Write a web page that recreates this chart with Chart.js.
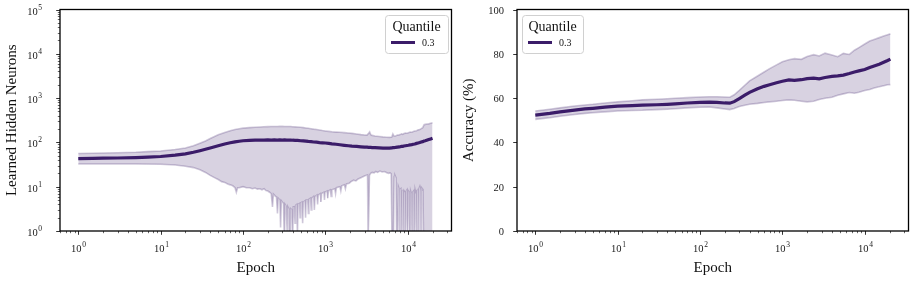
<!DOCTYPE html>
<html><head><meta charset="utf-8">
<script src="https://cdn.jsdelivr.net/npm/chart.js@4"></script>
<style>html,body{margin:0;padding:0;background:#fff;}#wrap{position:relative;width:914px;height:282px;}canvas{position:absolute;top:0;}</style>
</head><body>
<div id="wrap"><canvas id="c1" width="457" height="282" style="left:0"></canvas><canvas id="c2" width="457" height="282" style="left:457px"></canvas></div>
<script>
// ---------- data: left panel (learned hidden neurons) ----------
const epochsN = [1,1.5,2,3,5,7,10,15,20,25,30,35,40,50,60,70,80,90,100,120,140,160,180,200,220,240,260,280,300,320,340,360,380,400,430,460,500,540,580,620,670,720,780,850,920,1000,1100,1200,1350,1500,1700,1900,2100,2400,2700,3000,3200,3350,3450,3550,3700,4000,4500,5000,5500,6000,6400,6600,6800,7100,7500,7900,8100,8400,8700,9000,9400,9800,10200,10700,11200,11700,12200,12800,13400,14000,14600,15200,15800,16300,17000,18000,19000,20000];
const neuronsMean = [43,43.5,44,44.5,45.5,46.5,48,51.5,55,60,65,70,75,84,92,98,103,106,109,111,112,113,113,113.5,113,113.5,113,114,113,113.5,113,112.5,113,112,111.5,111,109,108,106.5,105,104,102,101,99,98,97,95,93,91,88.5,86,84,82.5,81,79.5,78.5,78,77.5,77,77.5,76.5,76,75,74,74.5,74,75,76,76.5,77,78,79,80,81,81.5,83,84,85,86,88,89,91,92,95,97,99,102,104,107,109,112,116,120,124];
const neuronsUpper = [56,57,57.5,58.5,60,62,64,69,75,84,96,108,122,148,168,183,195,203,210,216,220,223,225,227,228,229,229,230,230,229,229,228,228,226,224,222,219,216,212,208,204,199,195,190,185,181,177,174,171,169,166,163,160,155,150,147,146,160,172,150,144,140,136,133,131,130,132,155,140,140,146,148,150,156,152,158,162,161,166,172,170,176,181,184,192,196,205,215,250,255,260,262,270,278];
const epochsNLow = [1,2,5,10,15,20,25,30,35,40,45,50,55,60,65,70,75,80,83,86,90,100,110,120,130,140,150,160,170,180,190,200,210,220,228,234,245,255,262,268,280,286,292,300,310,318,324,335,343,350,365,372,378,392,400,408,420,428,435,450,458,466,485,493,500,520,530,540,565,575,585,610,622,632,660,672,685,720,735,750,790,805,820,870,885,900,960,975,990,1050,1070,1090,1150,1175,1200,1300,1330,1360,1500,1540,1580,1700,1750,1800,1950,2050,2200,2350,2500,2700,2900,3100,3250,3300,3380,3430,3550,3700,3900,4100,4300,4600,4900,5200,5500,5800,6100,6300,6450,6700,6850,7000,7200,7350,7500,7700,7850,7950,8050,8250,8400,8550,8750,8900,9050,9250,9400,9600,9800,10000,10200,10450,10650,10850,11100,11300,11500,11800,12000,12300,12600,12800,13000,13300,13500,13700,14000,14300,14500,14700,15000,15300,15600,16000,17000,18500,20000];
const neuronsLower = [32.5,32.5,32.5,32,31,29,27,24,21,18,16,14.5,13,12.5,11.5,11,10.5,9.5,7.5,9.5,9.5,10,9.5,9.5,9,9.3,8.8,9,8.5,9,8.2,8,7.5,7,3.5,6.8,6.2,5.8,2.5,5.5,5,1.2,4.8,4.5,4.2,0.5,4,3.6,1,3.5,3,0.5,3.2,3,0.5,3.5,3.5,1.5,3.8,4,0.8,4,4.2,2,4.3,4.5,1.5,4.5,4.8,2,5,5,2.5,5.2,5.5,3,5.5,6,3,6,6.5,4,6.5,7,4.5,7,7.5,5,7.5,8,5.5,8,8.5,6,8.5,9,7,9.5,10,8,10.5,11,9,11.5,12,13,14,13.5,15,16,17,18,18.5,0.5,0.5,18,20,21,20.5,22,21,22.5,21.5,22,21,20,20.5,19.5,0.5,0.5,17,18,16,0.5,0.5,10,9,0.5,8.5,9,0.5,8,8.5,0.5,8,7.5,0.5,8,8.5,1,8,7.5,0.5,8,7,0.5,7.5,8,0.5,8.5,7,0.5,8,9,0.5,9,10,8,0.5,9.5,9,8,0.5,0.5,0.5,0.5,0.5];

// ---------- data: right panel (accuracy %) ----------
const epochsA = [1,1.5,2,3,4,5,7,10,15,20,30,40,50,70,100,130,160,200,230,260,300,350,400,500,600,700,850,1000,1200,1400,1700,2000,2400,2800,3300,4000,4700,5500,6500,7500,8500,10000,11500,13000,15000,17000,19000,20500];
const accMean  = [52.3,53.1,53.8,54.6,55.1,55.4,55.9,56.4,56.6,56.8,57.0,57.2,57.4,57.8,58.1,58.2,58.1,57.8,57.7,58.4,59.8,61.3,62.6,64.2,65.3,66.0,66.9,67.6,68.2,68.0,68.3,68.8,69.0,68.7,69.3,69.8,70.0,70.4,71.1,71.8,72.3,72.9,73.8,74.5,75.3,76.2,77.0,77.6];
const accUpper = [54.2,55.0,55.6,56.4,56.9,57.2,57.8,58.3,58.8,59.2,59.5,59.7,59.9,60.2,60.5,60.6,60.6,60.5,60.4,61.5,63.5,65.8,67.8,70.0,71.8,73.3,75.0,76.4,77.3,77.8,77.5,78.8,79.6,79.0,80.3,79.5,78.7,80.2,79.7,81.6,82.8,84.4,85.8,86.5,87.3,88.0,88.6,89.0];
const accLower = [50.4,51.1,51.8,52.6,53.1,53.4,53.8,54.2,54.4,54.5,54.8,55.0,55.2,55.6,55.9,56.0,55.6,55.1,54.8,55.3,56.2,56.8,57.2,57.6,58.0,58.3,58.6,58.9,59.2,59.0,58.6,58.3,58.6,59.4,59.9,60.4,61.3,61.9,62.5,62.2,62.6,63.4,63.9,64.6,65.1,65.6,66.0,66.1];

// ---------- ticks & text ----------
const xTickValues = [1,10,100,1000,10000];
const xTickExp = ['0','1','2','3','4'];
const neuronTickValues = [1,10,100,1000,10000,100000];
const neuronTickExp = ['0','1','2','3','4','5'];
const accTickValues = [0,20,40,60,80,100];
const accTickLabels = ['0','20','40','60','80','100'];
const legendTitle = 'Quantile';
const seriesLabel = '0.3';
const xTitle = 'Epoch';
const yTitleN = 'Learned Hidden Neurons';
const yTitleA = 'Accuracy (%)';

const SERIF = '"Liberation Serif","DejaVu Serif",serif';
const MAIN = '#3b1c69';
const FILL = 'rgba(59,28,105,0.2)';
const BOUND = 'rgba(59,28,105,0.24)';

function pts(xs, ys){ return xs.map((x,i)=>({x:x, y:ys[i]})); }

function drawPow(ctx, base, exp, x, y, align){
  ctx.font = '10.5px '+SERIF; const w1 = ctx.measureText(base).width;
  ctx.font = '7.5px '+SERIF; const w2 = ctx.measureText(exp).width;
  const total = w1 + 0.6 + w2;
  const x0 = align === 'center' ? x - total/2 : x - total;
  ctx.textAlign = 'left'; ctx.textBaseline = 'alphabetic';
  ctx.font = '10.5px '+SERIF; ctx.fillText(base, x0, y);
  ctx.font = '7.5px '+SERIF; ctx.fillText(exp, x0 + w1 + 0.6, y - 4.8);
}

function minorOf(majors){
  const out = [];
  const list = [majors[0]/10].concat(majors);
  list.forEach(m => { for (let k=2;k<=9;k++) out.push(m*k); });
  return out;
}

const axesPlugin = {
  id: 'axesDraw',
  afterDraw(chart, args, o){
    const ctx = chart.ctx, a = chart.chartArea, xs = chart.scales.x, ys = chart.scales.y;
    ctx.save();
    ctx.fillStyle = '#1a1a1a'; ctx.strokeStyle = '#000';
    ctx.lineWidth = 0.8;
    xTickValues.forEach((v,i)=>{
      const px = Math.round(xs.getPixelForValue(v))+0.5;
      ctx.beginPath(); ctx.moveTo(px, a.bottom); ctx.lineTo(px, a.bottom+3.8); ctx.stroke();
      drawPow(ctx, '10', xTickExp[i], px, a.bottom+21, 'center');
    });
    ctx.lineWidth = 0.6;
    minorOf(xTickValues).forEach(v=>{
      if (v < xs.min || v > xs.max) return;
      const px = Math.round(xs.getPixelForValue(v))+0.5;
      ctx.beginPath(); ctx.moveTo(px, a.bottom); ctx.lineTo(px, a.bottom+2.2); ctx.stroke();
    });
    if (o.logY){
      ctx.lineWidth = 0.8;
      neuronTickValues.forEach((v,i)=>{
        const py = Math.round(ys.getPixelForValue(v))+0.5;
        ctx.beginPath(); ctx.moveTo(a.left, py); ctx.lineTo(a.left-3.8, py); ctx.stroke();
        drawPow(ctx, '10', neuronTickExp[i], o.yLabelRight, py+4.5, 'right');
      });
      ctx.lineWidth = 0.6;
      minorOf(neuronTickValues).forEach(v=>{
        if (v < ys.min || v > ys.max) return;
        const py = Math.round(ys.getPixelForValue(v))+0.5;
        ctx.beginPath(); ctx.moveTo(a.left, py); ctx.lineTo(a.left-2.2, py); ctx.stroke();
      });
    } else {
      ctx.lineWidth = 0.8;
      ctx.font = '10.5px '+SERIF; ctx.textAlign='right'; ctx.textBaseline='middle';
      accTickValues.forEach((v,i)=>{
        const py = Math.round(ys.getPixelForValue(v))+0.5;
        ctx.beginPath(); ctx.moveTo(a.left, py); ctx.lineTo(a.left-3.8, py); ctx.stroke();
        ctx.fillText(accTickLabels[i], o.yLabelRight, py+0.5);
      });
    }
    ctx.lineWidth = 1.3;
    ctx.strokeRect(a.left, a.top, a.right-a.left, a.bottom-a.top);
    ctx.fillStyle = '#111';
    ctx.font = '15px '+SERIF; ctx.textAlign='center'; ctx.textBaseline='alphabetic';
    ctx.fillText(xTitle, (a.left+a.right)/2, a.bottom+41);
    ctx.save(); ctx.translate(o.yTitleX, (a.top+a.bottom)/2); ctx.rotate(-Math.PI/2);
    ctx.textBaseline='middle'; ctx.fillText(o.yTitle, 0, 0); ctx.restore();
    const L = o.legend;
    ctx.beginPath();
    ctx.roundRect(L.x+0.5, L.y+0.5, L.w, L.h, 3);
    ctx.fillStyle = 'rgba(255,255,255,0.85)'; ctx.fill();
    ctx.strokeStyle = '#d0d0d0'; ctx.lineWidth = 1; ctx.stroke();
    ctx.fillStyle = '#111';
    ctx.font = '14px '+SERIF; ctx.textAlign='center'; ctx.textBaseline='alphabetic';
    ctx.fillText(legendTitle, L.x + L.w/2, L.y+16);
    ctx.strokeStyle = MAIN; ctx.lineWidth = 3;
    ctx.beginPath(); ctx.moveTo(L.x+6, L.y+27.5); ctx.lineTo(L.x+30, L.y+27.5); ctx.stroke();
    ctx.font = '10px '+SERIF; ctx.textAlign='left'; ctx.textBaseline='middle';
    ctx.fillText(seriesLabel, L.x+37, L.y+28);
    ctx.restore();
  }
};

function makeChart(id, ex, mean, up, exLow, lo, yScale, pluginOpts){
  return new Chart(document.getElementById(id), {
    type: 'line',
    data: { datasets: [
      { label:'upper', data: pts(ex, up), borderColor: BOUND, borderWidth: 1.6, pointRadius: 0, fill: '+1', backgroundColor: FILL, order: 2, tension: 0 },
      { label:'lower', data: pts(exLow, lo), borderColor: BOUND, borderWidth: 1.6, pointRadius: 0, fill: false, order: 1, tension: 0 },
      { label: seriesLabel, data: pts(ex, mean), borderColor: MAIN, borderWidth: 3.2, pointRadius: 0, fill: false, order: 0, tension: 0 }
    ]},
    options: {
      responsive: false, animation: false, devicePixelRatio: 1,
      layout: { padding: { left: 0, right: 5.5, top: 9.5, bottom: 0 } },
      plugins: { legend: { display: false }, tooltip: { enabled: false }, axesDraw: pluginOpts },
      scales: {
        x: { type: 'logarithmic', min: 0.62, max: 34000, grid: { display: false }, border: { display: false }, ticks: { display: false }, afterFit(s){ s.height = 51; } },
        y: Object.assign({ grid: { display: false }, border: { display: false }, ticks: { display: false }, afterFit(s){ s.width = 60; } }, yScale)
      }
    },
    plugins: [axesPlugin]
  });
}

makeChart('c1', epochsN, neuronsMean, neuronsUpper, epochsNLow, neuronsLower,
  { type: 'logarithmic', min: 1, max: 100000 },
  { logY: true, yLabelRight: 42, yTitleX: 12.5, yTitle: yTitleN, legend: { x: 385, y: 15, w: 63, h: 38 } });
makeChart('c2', epochsA, accMean, accUpper, epochsA, accLower,
  { type: 'linear', min: 0, max: 100 },
  { logY: false, yLabelRight: 47, yTitleX: 12, yTitle: yTitleA, legend: { x: 65, y: 15, w: 61, h: 38 } });
</script>
</body></html>
